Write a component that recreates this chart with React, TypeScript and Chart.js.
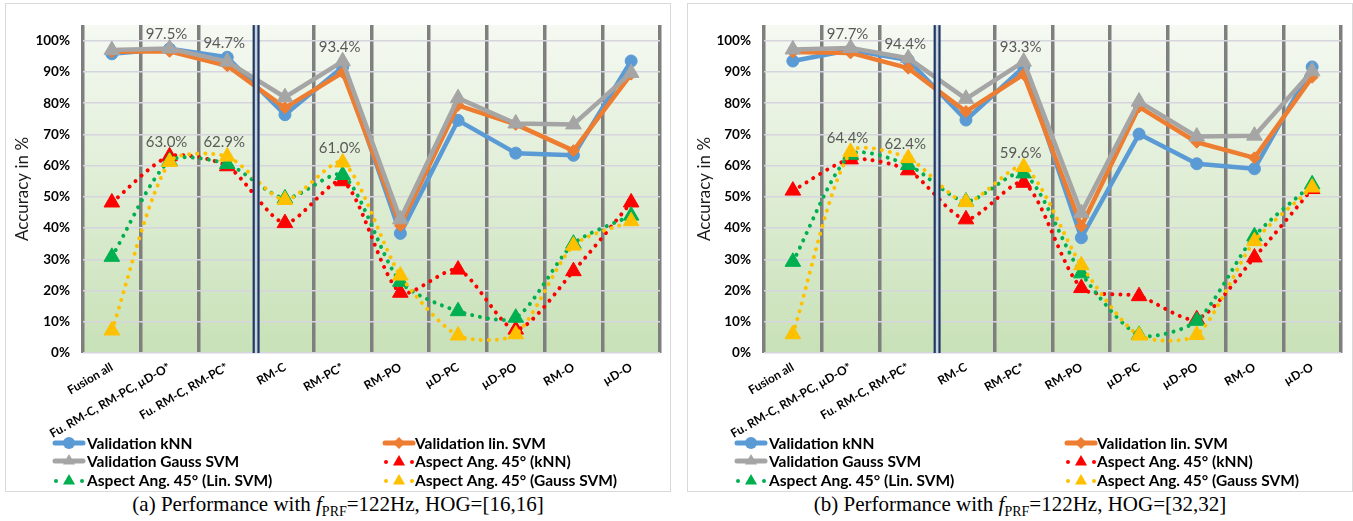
import React, { useEffect, useRef } from 'react';
import { Chart, registerables } from 'chart.js';

Chart.register(...registerables);

// ---------- data ----------
const categories = [
  'Fusion all',
  'Fu. RM-C, RM-PC, µD-O*',
  'Fu. RM-C, RM-PC*',
  'RM-C',
  'RM-PC*',
  'RM-PO',
  'µD-PC',
  'µD-PO',
  'RM-O',
  'µD-O',
];

const seriesNames = [
  'Validation kNN',
  'Validation lin. SVM',
  'Validation Gauss SVM',
  'Aspect Ang. 45° (kNN)',
  'Aspect Ang. 45° (Lin. SVM)',
  'Aspect Ang. 45° (Gauss SVM)',
];

// Panel (a): fPRF=122Hz, HOG=[16,16]
const valKnnA = [95.8, 97.4, 94.7, 76.3, 91.6, 38.3, 74.5, 64.0, 63.3, 93.5];
const valLinA = [96.5, 96.6, 92.0, 78.5, 89.8, 40.8, 79.3, 73.2, 64.8, 89.3];
const valGaussA = [97.0, 97.5, 93.3, 81.9, 93.4, 42.8, 81.6, 73.5, 73.2, 89.7];
const aspKnnA = [48.2, 63.0, 59.8, 41.6, 55.0, 19.3, 26.7, 7.5, 26.2, 48.2];
const aspLinA = [30.8, 61.5, 60.5, 49.5, 57.0, 22.8, 13.4, 11.3, 35.0, 44.0];
const aspGaussA = [7.2, 61.2, 62.9, 49.0, 61.0, 24.8, 5.6, 6.0, 34.4, 42.2];

// Panel (b): fPRF=122Hz, HOG=[32,32]
const valKnnB = [93.5, 97.0, 93.8, 74.6, 91.5, 36.9, 70.1, 60.6, 59.0, 91.6];
const valLinB = [96.4, 96.1, 91.2, 77.3, 89.2, 40.6, 78.8, 67.5, 62.5, 88.3];
const valGaussB = [97.2, 97.7, 94.4, 81.4, 93.3, 44.8, 80.5, 69.3, 69.6, 90.2];
const aspKnnB = [52.0, 62.0, 58.5, 42.8, 54.5, 20.8, 18.2, 10.8, 30.6, 52.5];
const aspLinB = [29.2, 63.5, 60.2, 48.5, 57.5, 25.5, 5.8, 10.3, 37.4, 54.0];
const aspGaussB = [6.0, 64.4, 62.4, 48.3, 59.6, 28.1, 5.6, 5.8, 35.8, 53.0];

// data labels: [datasetIndex, categoryIndex]
const labelPointsA: [number, number][] = [[2, 1], [0, 2], [2, 4], [3, 1], [5, 2], [5, 4]];
const labelPointsB: [number, number][] = [[2, 1], [2, 2], [2, 4], [5, 1], [5, 2], [5, 4]];

const yTicks = [0, 10, 20, 30, 40, 50, 60, 70, 80, 90, 100];

// ---------- styles ----------
const seriesColors = ['#5B9BD5', '#ED7D31', '#A5A5A5', '#FF0000', '#00B050', '#FFC000'];
const seriesStyles = [
  { dotted: false, point: 'circle', r: 6 },
  { dotted: false, point: 'rectRot', r: 6 },
  { dotted: false, point: 'triangle', r: 9 },
  { dotted: true, point: 'triangle', r: 9 },
  { dotted: true, point: 'triangle', r: 9 },
  { dotted: true, point: 'triangle', r: 9 },
];

const FONT = 'Lato';

function drawShape(ctx: CanvasRenderingContext2D, shape: string, x: number, y: number, r: number, color: string) {
  ctx.fillStyle = color;
  ctx.beginPath();
  if (shape === 'circle') {
    ctx.arc(x, y, r, 0, Math.PI * 2);
  } else if (shape === 'rectRot') {
    ctx.moveTo(x, y - r);
    ctx.lineTo(x + r, y);
    ctx.lineTo(x, y + r);
    ctx.lineTo(x - r, y);
    ctx.closePath();
  } else {
    ctx.moveTo(x, y - r);
    ctx.lineTo(x + r * 0.866, y + r * 0.5);
    ctx.lineTo(x - r * 0.866, y + r * 0.5);
    ctx.closePath();
  }
  ctx.fill();
}

type PanelCfg = {
  series: number[][];
  labels: [number, number][];
  yWidth: number;
  padRight: number;
};

const W = 664;
const H = 487;
const LEGEND_LINE = [47, 377];
const LEGEND_TEXT = [81, 409];
const LEGEND_ROWS = [439, 457, 476];

function makeChart(canvas: HTMLCanvasElement, cfg: PanelCfg) {
  const bgPlugin = {
    id: 'bgGradient',
    beforeDraw(chart: any) {
      const { ctx, chartArea } = chart;
      const { left, top, right, bottom } = chartArea;
      const g = ctx.createLinearGradient(0, top, 0, bottom);
      g.addColorStop(0, '#F5F9F2');
      g.addColorStop(1, '#C8E1B7');
      ctx.save();
      ctx.fillStyle = g;
      ctx.fillRect(left, top, right - left, bottom - top);
      ctx.restore();
    },
  };

  const overlayPlugin = {
    id: 'overlay',
    afterDatasetsDraw(chart: any) {
      const { ctx, chartArea, scales } = chart;
      const xs = scales.x;
      // double navy separator between the 3rd and 4th categories
      const xb = (xs.getPixelForTick(2) + xs.getPixelForTick(3)) / 2;
      ctx.save();
      ctx.fillStyle = '#C9D3E0';
      ctx.fillRect(xb - 3, chartArea.top, 6, chartArea.bottom - chartArea.top);
      ctx.fillStyle = '#1F3864';
      ctx.fillRect(xb - 3.5, chartArea.top, 2.2, chartArea.bottom - chartArea.top);
      ctx.fillRect(xb + 1.3, chartArea.top, 2.2, chartArea.bottom - chartArea.top);
      ctx.restore();

      // data labels
      ctx.save();
      ctx.font = `15px ${FONT}`;
      ctx.fillStyle = '#595959';
      ctx.textAlign = 'center';
      ctx.textBaseline = 'middle';
      cfg.labels.forEach(([ds, idx]) => {
        const meta = chart.getDatasetMeta(ds);
        const pt = meta.data[idx];
        const v = chart.data.datasets[ds].data[idx] as number;
        ctx.fillText(v.toFixed(1) + '%', pt.x - 3, pt.y - 14);
      });
      ctx.restore();
    },
    afterDraw(chart: any) {
      const { ctx } = chart;
      ctx.save();
      seriesNames.forEach((name, i) => {
        const col = i % 2;
        const row = Math.floor(i / 2);
        const x0 = LEGEND_LINE[col];
        const y = LEGEND_ROWS[row];
        const color = seriesColors[i];
        const st = seriesStyles[i];
        const mid = x0 + 16;
        if (!st.dotted) {
          ctx.strokeStyle = color;
          ctx.lineWidth = 5;
          ctx.lineCap = 'round';
          ctx.beginPath();
          ctx.moveTo(x0 + 2, y);
          ctx.lineTo(x0 + 30, y);
          ctx.stroke();
          drawShape(ctx, st.point, mid, y, st.point === 'triangle' ? 7 : 6, color);
        } else {
          ctx.fillStyle = color;
          ctx.beginPath();
          ctx.arc(x0 + 3, y + 1, 2, 0, Math.PI * 2);
          ctx.fill();
          ctx.beginPath();
          ctx.arc(x0 + 29, y + 1, 2, 0, Math.PI * 2);
          ctx.fill();
          drawShape(ctx, 'triangle', mid, y + 1, 7, color);
        }
        ctx.fillStyle = '#000';
        ctx.font = `bold 15.5px ${FONT}`;
        ctx.textAlign = 'left';
        ctx.textBaseline = 'middle';
        ctx.fillText(name, LEGEND_TEXT[col], y + 1);
      });
      ctx.restore();
    },
  };

  const datasets = cfg.series.map((data, i) => {
    const st = seriesStyles[i];
    return {
      label: seriesNames[i],
      data,
      borderColor: seriesColors[i],
      backgroundColor: seriesColors[i],
      borderWidth: st.dotted ? 4 : 4.5,
      borderDash: st.dotted ? [0.01, 8] : [],
      borderCapStyle: st.dotted ? 'round' : 'butt',
      borderJoinStyle: 'round',
      tension: st.dotted ? 0.25 : 0,
      pointStyle: st.point,
      pointRadius: st.r,
      pointBorderWidth: 1,
      pointBorderColor: seriesColors[i],
      pointBackgroundColor: seriesColors[i],
      order: 10 - i,
      clip: false,
    };
  });

  return new Chart(canvas, {
    type: 'line',
    data: { labels: categories, datasets: datasets as any },
    plugins: [bgPlugin, overlayPlugin],
    options: {
      responsive: false,
      animation: false,
      devicePixelRatio: 1,
      layout: { padding: { left: 0, top: 12, right: cfg.padRight, bottom: 0 } },
      plugins: {
        legend: { display: false },
        tooltip: { enabled: false },
        title: { display: false },
      },
      scales: {
        x: {
          type: 'category',
          offset: true,
          grid: {
            offset: true,
            color: (c: any) => (c.index === 3 ? 'rgba(0,0,0,0)' : '#7F7F7F'),
            lineWidth: 3.5,
            drawTicks: false,
          },
          border: { display: false },
          ticks: {
            autoSkip: false,
            minRotation: 30,
            maxRotation: 30,
            padding: 7,
            color: '#000',
            font: { family: FONT, weight: 'bold', size: 12 },
          },
          afterFit: (s: any) => {
            s.height = H - 349;
          },
        },
        y: {
          min: 0,
          max: 105,
          afterBuildTicks: (s: any) => {
            s.ticks = yTicks.map((v) => ({ value: v }));
          },
          afterFit: (s: any) => {
            s.width = cfg.yWidth;
          },
          ticks: {
            padding: 13,
            color: '#000',
            font: { family: FONT, weight: 'bold', size: 13.5 },
            callback: (v: any) => v + '%',
          },
          grid: { color: '#D6D4DE', lineWidth: 1.5, drawTicks: false },
          border: { display: false },
          title: {
            display: true,
            text: 'Accuracy in %',
            color: '#1A1A1A',
            font: { family: FONT, size: 17 },
            padding: { top: 6, bottom: 0 },
          },
        },
      },
    } as any,
  });
}

function Panel({ cfg, left, caption, tag }: { cfg: PanelCfg; left: number; caption: string; tag: string }) {
  const ref = useRef<HTMLCanvasElement>(null);
  useEffect(() => {
    if (!ref.current) return;
    const chart = makeChart(ref.current, cfg);
    return () => chart.destroy();
  }, []);
  return (
    <>
      <div
        style={{
          position: 'absolute',
          left,
          top: 3,
          width: W,
          height: H,
          border: '1px solid #D9D9D9',
          background: '#fff',
        }}
      >
        <canvas ref={ref} width={W} height={H} style={{ display: 'block' }} />
      </div>
      <div
        style={{
          position: 'absolute',
          left,
          top: 492,
          width: W + 2,
          textAlign: 'center',
          fontFamily: '"Liberation Serif", serif',
          fontSize: 21,
          lineHeight: '25px',
          color: '#000',
          whiteSpace: 'nowrap',
        }}
      >
        {tag} Performance with <i>f</i>
        <sub style={{ fontSize: 14 }}>PRF</sub>=122Hz, {caption}
      </div>
    </>
  );
}

const cfgA: PanelCfg = {
  series: [valKnnA, valLinA, valGaussA, aspKnnA, aspLinA, aspGaussA],
  labels: labelPointsA,
  yWidth: 77,
  padRight: 9,
};

const cfgB: PanelCfg = {
  series: [valKnnB, valLinB, valGaussB, aspKnnB, aspLinB, aspGaussB],
  labels: labelPointsB,
  yWidth: 76,
  padRight: 11,
};

export default function App() {
  return (
    <div style={{ position: 'absolute', left: 0, top: 0, width: 1353, height: 521, background: '#fff', overflow: 'hidden' }}>
      <Panel cfg={cfgA} left={5} tag="(a)" caption="HOG=[16,16]" />
      <Panel cfg={cfgB} left={687} tag="(b)" caption="HOG=[32,32]" />
    </div>
  );
}
